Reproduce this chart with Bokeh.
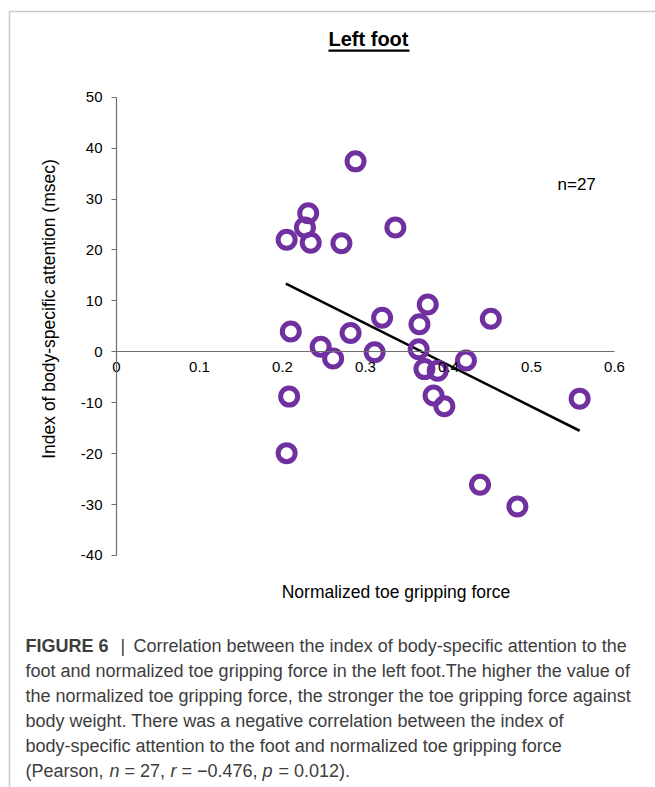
import math
from bokeh.plotting import figure
from bokeh.models import (Label, BoxAnnotation, FixedTicker, LinearAxis, Range1d)
from bokeh.embed import file_html
from bokeh.resources import INLINE

# ---- data ----
force = [0.288, 0.231, 0.227, 0.205, 0.234, 0.271, 0.336, 0.375, 0.451,
         0.320, 0.365, 0.210, 0.282, 0.246, 0.261, 0.311, 0.364, 0.371,
         0.387, 0.421, 0.382, 0.395, 0.208, 0.558, 0.205, 0.438, 0.483]
attention = [37.4, 27.2, 24.4, 22.0, 21.4, 21.3, 24.4, 9.3, 6.5,
             6.7, 5.4, 4.0, 3.7, 1.0, -1.3, -0.1, 0.5, -3.4,
             -3.7, -1.7, -8.6, -10.7, -8.8, -9.2, -19.9, -26.1, -30.4]
trend_x = [0.204, 0.558]
trend_y = [13.4, -15.5]
x_ticks = [0, 0.1, 0.2, 0.3, 0.4, 0.5, 0.6]
x_tick_labels = ["0", "0.1", "0.2", "0.3", "0.4", "0.5", "0.6"]
y_ticks = [-40, -30, -20, -10, 0, 10, 20, 30, 40, 50]
y_tick_labels = ["-40", "-30", "-20", "-10", "0", "10", "20", "30", "40", "50"]

FONT = "Liberation Sans, Arial, Helvetica, sans-serif"
PURPLE = "#7030A0"
CAP = "#3d3d3d"

W, H = 655, 787
# pixel geometry of the plotting area (page pixels)
X0, XS = 116.0, 830.0      # x = 0 at X0, pixels per unit of force
Y0, YS = 351.3, 5.092      # y = 0 at Y0, pixels per msec

p = figure(width=W, height=H, output_backend="svg", toolbar_location=None,
           x_range=Range1d(-X0 / XS, (W - X0) / XS),
           y_range=Range1d(-(H - Y0) / YS, Y0 / YS),
           min_border=0, x_axis_type=None, y_axis_type=None)
p.min_border_left = 0
p.min_border_right = 0
p.min_border_top = 0
p.min_border_bottom = 0
p.outline_line_color = None
p.xgrid.visible = False
p.ygrid.visible = False
p.background_fill_color = "white"
p.border_fill_color = "white"

# y axis at x = 0
yax = LinearAxis(ticker=FixedTicker(ticks=y_ticks), fixed_location=0, bounds=(-40, 50))
yax.major_label_overrides = {t: s for t, s in zip(y_ticks, y_tick_labels)}
yax.axis_line_color = "#6e6e6e"
yax.axis_line_width = 1.2
yax.major_tick_line_color = "#6e6e6e"
yax.major_tick_out = 5
yax.major_tick_in = 0
yax.minor_tick_line_color = None
yax.major_label_text_font = FONT
yax.major_label_text_font_size = "15px"
yax.major_label_text_color = "black"
yax.major_label_standoff = 9
p.add_layout(yax, "left")

# x axis crossing at y = 0
xax = LinearAxis(ticker=FixedTicker(ticks=x_ticks), fixed_location=0, bounds=(0, 0.6))
xax.major_label_overrides = {t: s for t, s in zip(x_ticks, x_tick_labels)}
xax.axis_line_color = "#6e6e6e"
xax.axis_line_width = 1.2
xax.major_tick_line_color = None
xax.major_tick_out = 0
xax.major_tick_in = 0
xax.minor_tick_line_color = None
xax.major_label_text_font = FONT
xax.major_label_text_font_size = "15px"
xax.major_label_text_color = "black"
xax.major_label_standoff = 10
p.add_layout(xax, "below")

# trend line and points
p.line(trend_x, trend_y, line_color="black", line_width=2.6)
p.scatter(force, attention, marker="circle", size=17, fill_color=None,
          line_color=PURPLE, line_width=5)


def sx(X):
    return X


def sy(Y):
    return H - Y


def lab(text, X, Y, size, color="black", style="normal", align="left",
        baseline="alphabetic", angle=0.0):
    p.add_layout(Label(x=sx(X), y=sy(Y), x_units="screen", y_units="screen",
                       text=text, text_font=FONT, text_font_size=size,
                       text_color=color, text_font_style=style,
                       text_align=align, text_baseline=baseline, angle=angle))


def box(l, r, t, b, **kw):
    p.add_layout(BoxAnnotation(left=sx(l), right=sx(r), top=sy(t), bottom=sy(b),
                               left_units="screen", right_units="screen",
                               top_units="screen", bottom_units="screen", **kw))


# outer frame of the figure panel (open towards right and bottom edges)
box(9, 720, 11, 860, fill_alpha=0, line_color="#505050", line_width=1.5)

# title with underline
lab("Left foot", 368, 38.5, "20px", style="bold", align="center")
box(328, 409, 49, 51.2, fill_color="black", fill_alpha=1, line_color=None)

lab("n=27", 557, 184, "17px")
lab("Normalized toe gripping force", 395.5, 591, "17.5px", align="center")
lab("Index of body-specific attention (msec)", 48.5, 308.5, "17.5px",
    align="center", baseline="middle", angle=math.pi / 2)

# caption
base = [645, 670, 695, 720, 745, 770]
lab("FIGURE 6", 25, base[0], "18px", color=CAP, style="bold")
lab("|", 120, base[0], "18px", color=CAP)
lab("Correlation between the index of body-specific attention to the", 133, base[0], "18px", color=CAP)
lab("foot and normalized toe gripping force in the left foot.The higher the value of", 25, base[1], "18px", color=CAP)
lab("the normalized toe gripping force, the stronger the toe gripping force against", 25, base[2], "18px", color=CAP)
lab("body weight. There was a negative correlation between the index of", 25, base[3], "18px", color=CAP)
lab("body-specific attention to the foot and normalized toe gripping force", 25, base[4], "18px", color=CAP)
lab("(Pearson,", 25, base[5], "18px", color=CAP)
lab("n", 109, base[5], "18px", color=CAP, style="italic")
lab("= 27,", 124, base[5], "18px", color=CAP)
lab("r", 170, base[5], "18px", color=CAP, style="italic")
lab("= \u22120.476,", 181, base[5], "18px", color=CAP)
lab("p", 262, base[5], "18px", color=CAP, style="italic")
lab("= 0.012).", 278, base[5], "18px", color=CAP)

open("out.html", "w").write(file_html(p, INLINE))
